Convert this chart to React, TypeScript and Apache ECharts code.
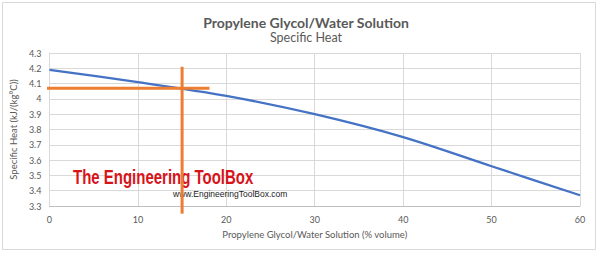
import React, { useEffect, useRef } from "react";
import * as echarts from "echarts";

const concentration = [0, 10, 20, 30, 40, 50, 60];
const specificHeat = [4.19, 4.11, 4.02, 3.9, 3.75, 3.56, 3.37];
const crossX = 15;
const crossY = 4.07;
const crossVertical = [4.21, 3.25];
const crossHorizontal = [-0.6, 18.1];
const xTicks = [0, 10, 20, 30, 40, 50, 60];
const yTicks = [3.3, 3.4, 3.5, 3.6, 3.7, 3.8, 3.9, 4, 4.1, 4.2, 4.3];

const gray = "#595959";
const FONT = "Lato, 'Open Sans', sans-serif";

export default function App() {
  const ref = useRef<HTMLDivElement>(null);
  useEffect(() => {
    const chart = echarts.init(ref.current!, null, { renderer: "svg" });
    chart.setOption({
      animation: false,
      backgroundColor: "#ffffff",
      title: [
        {
          text: "Propylene Glycol/Water Solution",
          left: "center",
          top: 10,
          textStyle: { fontFamily: FONT, fontSize: 14, fontWeight: "bold", color: gray },
        },
        {
          text: "Specific Heat",
          left: "center",
          top: 26,
          textStyle: { fontFamily: FONT, fontSize: 12.5, fontWeight: "normal", color: gray },
        },
      ],
      grid: { left: 46, right: 32, top: 53, bottom: 52, containLabel: false },
      xAxis: {
        type: "value",
        min: xTicks[0],
        max: xTicks[xTicks.length - 1],
        interval: 10,
        name: "Propylene Glycol/Water Solution (% volume)",
        nameLocation: "middle",
        nameGap: 23,
        nameTextStyle: { fontFamily: FONT, fontSize: 9.5, color: gray },
        axisLine: { show: true, lineStyle: { color: "#BFBFBF" } },
        axisTick: { show: false },
        axisLabel: { fontFamily: FONT, fontSize: 9, color: gray, margin: 9 },
        splitLine: { show: true, lineStyle: { color: "#D9D9D9" } },
      },
      yAxis: {
        type: "value",
        min: yTicks[0],
        max: yTicks[yTicks.length - 1],
        interval: 0.1,
        name: "Specific Heat (kJ/(kg°C))",
        nameLocation: "middle",
        nameGap: 19,
        nameTextStyle: { fontFamily: FONT, fontSize: 9.5, color: gray },
        axisLine: { show: true, lineStyle: { color: "#D9D9D9" } },
        axisTick: { show: false },
        axisLabel: {
          fontFamily: FONT,
          fontSize: 9,
          color: gray,
          margin: 8,
          formatter: (v: number) => String(Math.round(v * 10) / 10),
        },
        splitLine: { show: true, lineStyle: { color: "#D9D9D9" } },
      },
      graphic: [
        {
          type: "rect",
          z: 0,
          shape: { x: 2.5, y: 2.5, width: 593, height: 247 },
          style: { fill: "none", stroke: "#D9D9D9", lineWidth: 1 },
          silent: true,
        },
        {
          type: "text",
          z: 1,
          x: 73,
          y: 167,
          scaleX: 0.75,
          style: {
            text: "The Engineering ToolBox",
            font: "bold 20px 'Liberation Sans', sans-serif",
            fill: "#D7141A",
          },
          silent: true,
        },
        {
          type: "text",
          z: 1,
          x: 173,
          y: 189,
          style: {
            text: "www.EngineeringToolBox.com",
            font: "8.5px 'Liberation Sans', sans-serif",
            fill: "#222222",
          },
          silent: true,
        },
      ],
      series: [
        {
          type: "line",
          data: concentration.map((c, i) => [c, specificHeat[i]]),
          smooth: 0.3,
          symbol: "none",
          lineStyle: { color: "#4472C4", width: 2.25 },
          z: 3,
        },
        {
          type: "line",
          clip: false,
          data: crossVertical.map((v) => [crossX, v]),
          symbol: "none",
          lineStyle: { color: "#ED7D31", width: 3 },
          z: 4,
        },
        {
          type: "line",
          clip: false,
          data: [
            [crossHorizontal[0], crossY],
            {
              value: [crossHorizontal[1], crossY],
              label: {
                show: true,
                position: "right",
                distance: 20,
                formatter: crossY.toFixed(2),
                fontFamily: FONT,
                fontSize: 13,
                color: "#ED7D31",
              },
            },
          ],
          symbol: "none",
          lineStyle: { color: "#ED7D31", width: 3 },
          z: 4,
        },
      ],
    });
    return () => chart.dispose();
  }, []);
  return (
    <div
      ref={ref}
      style={{ position: "fixed", left: 0, top: 0, width: 612, height: 258, background: "#fff" }}
    />
  );
}
